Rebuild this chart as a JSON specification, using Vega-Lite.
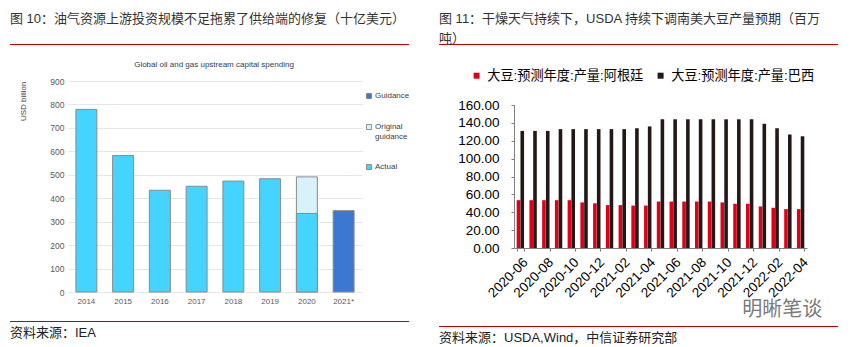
{
  "$schema": "https://vega.github.io/schema/vega-lite/v6.json",
  "background": "white",
  "padding": {"left": 10, "top": 13, "right": 0, "bottom": 0},
  "config": {
    "font": "Liberation Sans, Noto Sans CJK SC",
    "view": {"stroke": null}
  },
  "spacing": 29,
  "resolve": {"scale": {"color": "independent"}, "legend": {"color": "independent"}},
  "hconcat": [
    {
      "spacing": 16,
      "vconcat": [
        {
          "width": 399,
          "height": 1,
          "view": {"fill": "#c00000", "stroke": null},
          "title": {"text": "图 10：油气资源上游投资规模不足拖累了供给端的修复（十亿美元）", "orient": "top", "anchor": "start", "fontSize": 13, "fontWeight": "normal", "color": "#333333", "offset": 18, "font": "Liberation Sans, Noto Sans CJK SC"},
          "data": {"values": [{}]},
          "mark": {"type": "rect", "fill": "#c00000"}
        },
        {
          "width": 352,
          "height": 211,
          "title": {"text": "Global oil and gas upstream capital spending", "fontSize": 8, "font": "Liberation Sans Narrow, Liberation Sans", "fontWeight": "normal", "color": "#2d3e63", "anchor": "middle", "frame": "group", "offset": 8, "dx": 28},
          "data": {"values": [
            {"year": "2014", "type": "Actual", "value": 779},
            {"year": "2015", "type": "Actual", "value": 582},
            {"year": "2016", "type": "Actual", "value": 434},
            {"year": "2017", "type": "Actual", "value": 451},
            {"year": "2018", "type": "Actual", "value": 473},
            {"year": "2019", "type": "Actual", "value": 483},
            {"year": "2020", "type": "Original guidance", "value": 491},
            {"year": "2020", "type": "Actual", "value": 335},
            {"year": "2021*", "type": "Guidance", "value": 347}
          ]},
          "mark": {"type": "bar", "stroke": "#8a8a8a", "strokeWidth": 1},
          "encoding": {
            "x": {"field": "year", "type": "nominal", "sort": null,
              "scale": {"range": [58, 352], "paddingInner": 0.43, "paddingOuter": 0.215},
              "axis": {"title": null, "labelAngle": 0, "domain": false, "ticks": false, "labelFontSize": 8, "labelFont": "Liberation Sans Narrow, Liberation Sans", "labelColor": "#595959", "labelPadding": 5}},
            "y": {"field": "value", "type": "quantitative", "stack": null,
              "scale": {"domain": [0, 900]},
              "axis": {"offset": -58, "values": [0, 100, 200, 300, 400, 500, 600, 700, 800, 900], "title": "USD billion", "titleFontSize": 8, "titleFont": "Liberation Sans", "titleFontWeight": "normal", "titleColor": "#404040", "titleAnchor": "end", "titlePadding": 22, "domain": false, "ticks": false, "labelPadding": 4, "labelFontSize": 8.5, "labelFont": "Liberation Sans Narrow, Liberation Sans", "labelColor": "#595959", "gridColor": "#e6e6e6"}},
            "color": {"field": "type", "type": "nominal",
              "scale": {"domain": ["Guidance", "Original guidance", "Actual"], "range": ["#3b78d1", "#d8f2fc", "#45d3ff"]},
              "legend": {"title": null, "orient": "none", "legendX": 355, "legendY": 48, "direction": "vertical", "symbolType": "square", "symbolSize": 25, "symbolStrokeColor": "#7a7a7a", "symbolStrokeWidth": 0.8, "labelFontSize": 8, "labelFont": "Liberation Sans Narrow, Liberation Sans", "labelColor": "#404040", "rowPadding": 21, "labelOffset": 2, "padding": 0,
                "labelExpr": "datum.label == 'Original guidance' ? ['Original', 'guidance'] : datum.label"}}
          }
        },
        {
          "width": 399,
          "height": 1,
          "view": {"fill": "#c00000", "stroke": null},
          "title": {"text": "资料来源：IEA", "orient": "bottom", "anchor": "start", "fontSize": 13, "fontWeight": "normal", "color": "#222222", "offset": 5, "font": "Liberation Sans, Noto Sans CJK SC"},
          "data": {"values": [{}]},
          "mark": {"type": "rect", "fill": "#c00000"}
        }
      ]
    },
    {
      "spacing": 6,
      "vconcat": [
        {
          "width": 399,
          "height": 1,
          "view": {"fill": "#c00000", "stroke": null},
          "title": {"text": ["图 11：干燥天气持续下，USDA 持续下调南美大豆产量预期（百万", "吨）"], "orient": "top", "anchor": "start", "fontSize": 13, "lineHeight": 20, "fontWeight": "normal", "color": "#333333", "offset": -2, "font": "Liberation Sans, Noto Sans CJK SC"},
          "data": {"values": [{}]},
          "mark": {"type": "rect", "fill": "#c00000"}
        },
        {
          "width": 368,
          "height": 143,
          "title": {"text": " ", "fontSize": 13, "offset": 33},
          "data": {"values": [
            {"month": "2020-06", "series": "大豆:预测年度:产量:阿根廷", "value": 53.5},
            {"month": "2020-06", "series": "大豆:预测年度:产量:巴西", "value": 131},
            {"month": "2020-07", "series": "大豆:预测年度:产量:阿根廷", "value": 53.5},
            {"month": "2020-07", "series": "大豆:预测年度:产量:巴西", "value": 131},
            {"month": "2020-08", "series": "大豆:预测年度:产量:阿根廷", "value": 53.5},
            {"month": "2020-08", "series": "大豆:预测年度:产量:巴西", "value": 131},
            {"month": "2020-09", "series": "大豆:预测年度:产量:阿根廷", "value": 53.5},
            {"month": "2020-09", "series": "大豆:预测年度:产量:巴西", "value": 133},
            {"month": "2020-10", "series": "大豆:预测年度:产量:阿根廷", "value": 53.5},
            {"month": "2020-10", "series": "大豆:预测年度:产量:巴西", "value": 133},
            {"month": "2020-11", "series": "大豆:预测年度:产量:阿根廷", "value": 51},
            {"month": "2020-11", "series": "大豆:预测年度:产量:巴西", "value": 133},
            {"month": "2020-12", "series": "大豆:预测年度:产量:阿根廷", "value": 50},
            {"month": "2020-12", "series": "大豆:预测年度:产量:巴西", "value": 133},
            {"month": "2021-01", "series": "大豆:预测年度:产量:阿根廷", "value": 48},
            {"month": "2021-01", "series": "大豆:预测年度:产量:巴西", "value": 133},
            {"month": "2021-02", "series": "大豆:预测年度:产量:阿根廷", "value": 48},
            {"month": "2021-02", "series": "大豆:预测年度:产量:巴西", "value": 133},
            {"month": "2021-03", "series": "大豆:预测年度:产量:阿根廷", "value": 47.5},
            {"month": "2021-03", "series": "大豆:预测年度:产量:巴西", "value": 134},
            {"month": "2021-04", "series": "大豆:预测年度:产量:阿根廷", "value": 47.5},
            {"month": "2021-04", "series": "大豆:预测年度:产量:巴西", "value": 136},
            {"month": "2021-05", "series": "大豆:预测年度:产量:阿根廷", "value": 52},
            {"month": "2021-05", "series": "大豆:预测年度:产量:巴西", "value": 144},
            {"month": "2021-06", "series": "大豆:预测年度:产量:阿根廷", "value": 52},
            {"month": "2021-06", "series": "大豆:预测年度:产量:巴西", "value": 144},
            {"month": "2021-07", "series": "大豆:预测年度:产量:阿根廷", "value": 52},
            {"month": "2021-07", "series": "大豆:预测年度:产量:巴西", "value": 144},
            {"month": "2021-08", "series": "大豆:预测年度:产量:阿根廷", "value": 52},
            {"month": "2021-08", "series": "大豆:预测年度:产量:巴西", "value": 144},
            {"month": "2021-09", "series": "大豆:预测年度:产量:阿根廷", "value": 52},
            {"month": "2021-09", "series": "大豆:预测年度:产量:巴西", "value": 144},
            {"month": "2021-10", "series": "大豆:预测年度:产量:阿根廷", "value": 51},
            {"month": "2021-10", "series": "大豆:预测年度:产量:巴西", "value": 144},
            {"month": "2021-11", "series": "大豆:预测年度:产量:阿根廷", "value": 49.5},
            {"month": "2021-11", "series": "大豆:预测年度:产量:巴西", "value": 144},
            {"month": "2021-12", "series": "大豆:预测年度:产量:阿根廷", "value": 49.5},
            {"month": "2021-12", "series": "大豆:预测年度:产量:巴西", "value": 144},
            {"month": "2022-01", "series": "大豆:预测年度:产量:阿根廷", "value": 46.5},
            {"month": "2022-01", "series": "大豆:预测年度:产量:巴西", "value": 139},
            {"month": "2022-02", "series": "大豆:预测年度:产量:阿根廷", "value": 45},
            {"month": "2022-02", "series": "大豆:预测年度:产量:巴西", "value": 134},
            {"month": "2022-03", "series": "大豆:预测年度:产量:阿根廷", "value": 43.5},
            {"month": "2022-03", "series": "大豆:预测年度:产量:巴西", "value": 127},
            {"month": "2022-04", "series": "大豆:预测年度:产量:阿根廷", "value": 43.5},
            {"month": "2022-04", "series": "大豆:预测年度:产量:巴西", "value": 125}
          ]},
          "encoding": {
            "x": {"field": "month", "type": "nominal", "sort": null,
              "scale": {"range": [75, 368], "paddingInner": 0.42, "paddingOuter": 0.21},
              "axis": {"title": null, "values": ["2020-06", "2020-08", "2020-10", "2020-12", "2021-02", "2021-04", "2021-06", "2021-08", "2021-10", "2021-12", "2022-02", "2022-04"], "labelAngle": -45, "labelFontSize": 13.5, "labelColor": "#000000", "domainColor": "#7f7f7f", "tickColor": "#7f7f7f", "tickSize": 3, "tickBand": "extent", "labelPadding": 4}},
            "y": {"field": "value", "type": "quantitative",
              "scale": {"domain": [0, 160]},
              "axis": {"offset": -75, "title": null, "values": [0, 20, 40, 60, 80, 100, 120, 140, 160], "format": ".2f", "grid": false, "domainColor": "#7f7f7f", "tickColor": "#7f7f7f", "tickSize": 3, "labelFontSize": 13.5, "labelColor": "#000000", "labelPadding": 12}}
          },
          "layer": [
            {
              "mark": {"type": "bar"},
              "encoding": {
                "xOffset": {"field": "series", "type": "nominal", "sort": ["大豆:预测年度:产量:阿根廷", "大豆:预测年度:产量:巴西"], "scale": {"paddingInner": 0.05}},
                "color": {"field": "series", "type": "nominal",
                  "scale": {"domain": ["大豆:预测年度:产量:阿根廷", "大豆:预测年度:产量:巴西"], "range": ["#dd0018", "#231815"]},
                  "legend": {"title": null, "orient": "none", "legendX": 31, "legendY": 25, "padding": 0, "direction": "horizontal", "symbolType": "square", "symbolSize": 36, "labelFontSize": 13.2, "labelColor": "#000000", "columnPadding": 10, "labelOffset": 4, "labelLimit": 300}}
              }
            },
            {
              "data": {"values": [{"label": "明晰笔谈", "month": "2022-02", "value": 0}]},
              "mark": {"type": "text", "fontSize": 20, "color": "#7a7a7a", "align": "center", "baseline": "middle", "dx": 7, "dy": 62},
              "encoding": {
                "text": {"field": "label", "type": "nominal"}
              }
            }
          ]
        },
        {
          "width": 399,
          "height": 1,
          "view": {"fill": "#c00000", "stroke": null},
          "title": {"text": "资料来源：USDA,Wind，中信证券研究部", "orient": "bottom", "anchor": "start", "fontSize": 13, "fontWeight": "normal", "color": "#222222", "offset": 5, "font": "Liberation Sans, Noto Sans CJK SC"},
          "data": {"values": [{}]},
          "mark": {"type": "rect", "fill": "#c00000"}
        }
      ]
    }
  ]
}
